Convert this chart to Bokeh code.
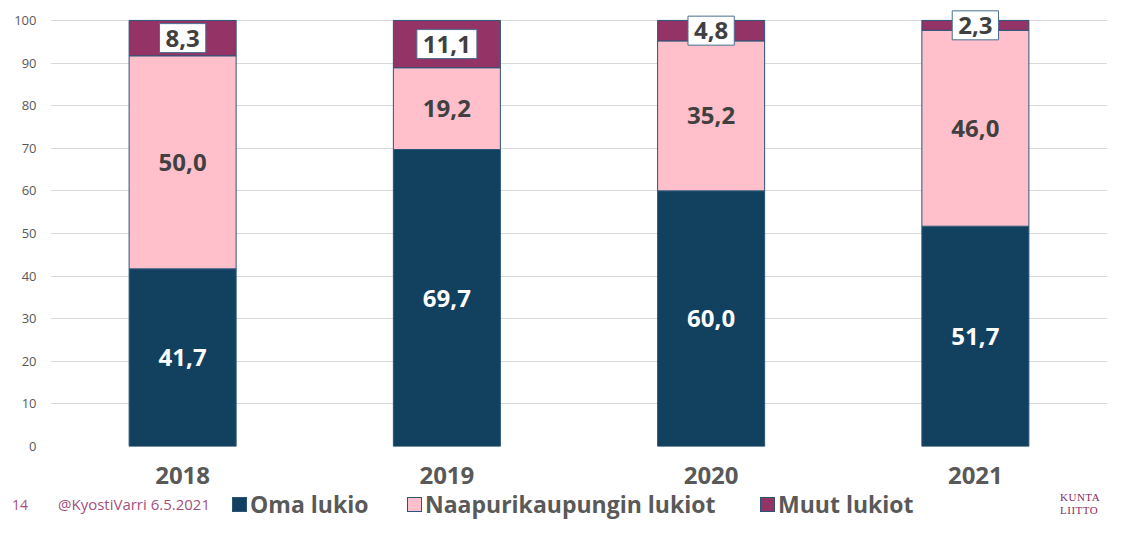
from bokeh.plotting import figure
from bokeh.layouts import column
from bokeh.models import ColumnDataSource, Range1d, FixedTicker, Div
from bokeh.core.properties import value
from bokeh.embed import file_html
from bokeh.resources import INLINE

years = ["2018", "2019", "2020", "2021"]
oma = [41.7, 69.7, 60.0, 51.7]
naapuri = [50.0, 19.2, 35.2, 46.0]
muut = [8.3, 11.1, 4.8, 2.3]
series = ["Oma lukio", "Naapurikaupungin lukiot", "Muut lukiot"]
colors = ["#12405F", "#FFC0CB", "#933366"]
yticks = [0, 10, 20, 30, 40, 50, 60, 70, 80, 90, 100]
page_no = "14"
credit = "@KyostiVarri 6.5.2021"
logo = ["KUNTA", "LIITTO"]

FONT = "Open Sans"
W = 1107
MAIN_H = 490
FOOT_H = 29

def fmt(v):
    return f"{v:.1f}".replace(".", ",")

src = ColumnDataSource(dict(
    years=years, oma=oma, naapuri=naapuri, muut=muut,
    oma_y=[o / 2 for o in oma],
    naa_y=[o + n / 2 for o, n in zip(oma, naapuri)],
    muu_y=[o + n + m / 2 for o, n, m in zip(oma, naapuri, muut)],
    oma_t=[fmt(v) for v in oma],
    naa_t=[fmt(v) for v in naapuri],
    muu_t=[fmt(v) for v in muut],
))

p = figure(x_range=years, y_range=Range1d(0, 102.8), width=W, height=MAIN_H,
           output_backend="svg", toolbar_location=None,
           min_border_left=50, min_border_right=0, min_border_top=8, min_border_bottom=44)
p.outline_line_color = None

p.vbar_stack(["oma", "naapuri", "muut"], x="years", width=0.405, source=src,
             fill_color=colors, line_color="#2B5478", line_width=1)

p.text(x="years", y="oma_y", text="oma_t", source=src, text_align="center",
       text_baseline="middle", text_color="white", text_font=value(FONT),
       text_font_style="bold", text_font_size="24px")
p.text(x="years", y="naa_y", text="naa_t", source=src, text_align="center",
       text_baseline="middle", text_color="#404040", text_font=value(FONT),
       text_font_style="bold", text_font_size="24px")
p.text(x="years", y="muu_y", text="muu_t", source=src, text_align="center",
       text_baseline="middle", text_color="#404040", text_font=value(FONT),
       text_font_style="bold", text_font_size="24px",
       background_fill_color="white", border_line_color="#4A6F8F",
       border_line_width=1, padding=6)

p.yaxis.ticker = FixedTicker(ticks=yticks)
p.yaxis.axis_line_color = None
p.yaxis.major_tick_line_color = None
p.yaxis.minor_tick_line_color = None
p.yaxis.major_label_text_font = FONT
p.yaxis.major_label_text_font_size = "13px"
p.yaxis.major_label_text_color = "#595959"
p.yaxis.major_label_standoff = 8

p.xaxis.axis_line_color = None
p.xaxis.major_tick_line_color = None
p.xaxis.major_label_text_font = FONT
p.xaxis.major_label_text_font_style = "bold"
p.xaxis.major_label_text_font_size = "24px"
p.xaxis.major_label_text_color = "#595959"
p.xaxis.major_label_standoff = 14

p.xgrid.grid_line_color = None
p.ygrid.grid_line_color = "#D9D9D9"
p.ygrid.grid_line_width = 1

# footer: page number, credit, legend, logo
legend_lefts = [232, 407, 760]
span_base = f"position:absolute;top:0;height:{FOOT_H}px;line-height:{FOOT_H}px;white-space:nowrap;"
parts = [
    f'<span style="{span_base}left:12px;font-family:\'{FONT}\';font-size:14px;color:#A2517E;">{page_no}</span>',
    f'<span style="{span_base}left:58px;font-family:\'{FONT}\';font-size:15px;color:#A2517E;">{credit}</span>',
]
for s, c, left in zip(series, colors, legend_lefts):
    parts.append(
        f'<span style="{span_base}left:{left}px;display:flex;align-items:center;">'
        f'<span style="display:inline-block;width:15px;height:15px;background:{c};'
        f'border:1px solid #2B5478;margin-right:3px;"></span>'
        f'<span style="font-family:\'{FONT}\';font-weight:bold;font-size:23px;'
        f'color:#595959;line-height:{FOOT_H}px;">{s}</span></span>'
    )
parts.append(
    f'<span style="position:absolute;left:1060px;top:1px;font-family:\'Liberation Serif\';'
    f'font-size:11px;color:#8B2D5F;line-height:13px;letter-spacing:0.5px;white-space:nowrap;">'
    f'{logo[0]}<br>{logo[1]}</span>'
)
footer_html = (f'<div style="position:relative;width:{W}px;height:{FOOT_H}px;">'
               + "".join(parts) + "</div>")
footer = Div(text=footer_html, width=W, height=FOOT_H, margin=(0, 0, 0, 0))

open("out.html", "w").write(file_html(column(p, footer, spacing=0), INLINE))
